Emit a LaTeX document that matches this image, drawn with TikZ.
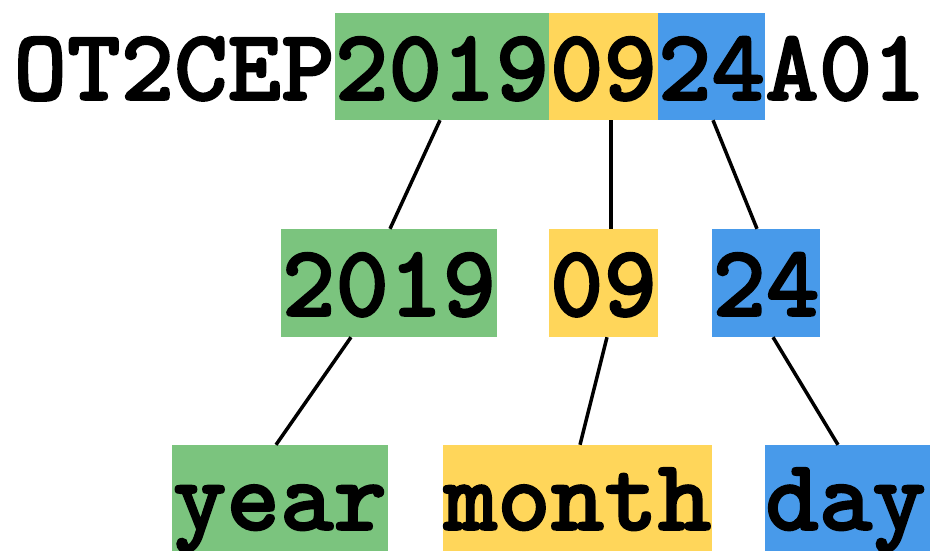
\documentclass[tikz,border=0pt]{standalone}
\usepackage{fontspec}
\newfontfamily\courbold{lmmonolt10-bold.otf}[FakeBold=1.6]
\definecolor{cgreen}{RGB}{123,196,126}
\definecolor{cyellow}{RGB}{255,214,90}
\definecolor{cblue}{RGB}{72,154,234}
\tikzset{
  box/.style={draw=none, inner sep=0pt, rectangle},
  txt/.style={inner sep=0pt, font=\fontsize{102}{102}\selectfont\courbold, anchor=base},
  link/.style={line width=3.5pt, black}
}
\begin{document}
\begin{tikzpicture}[x=1pt,y=-1pt]
\useasboundingbox (0,0) rectangle (930,550);
\clip (0,0) rectangle (930,550);
% top row boxes
\node[box, fill=cgreen, minimum width=214pt, minimum height=107pt] (ty) at (442,66.5) {};
\node[box, fill=cyellow, minimum width=109pt, minimum height=107pt] (tm) at (603.5,66.5) {};
\node[box, fill=cblue, minimum width=107pt, minimum height=107pt] (td) at (711.5,66.5) {};
\node[txt, anchor=base east] (tpre) at (335,100) {OT2CEP};
\node[txt] (tyt) at (442,100) {2019};
\node[txt] (tmt) at (603.5,100) {09};
\node[txt] (tdt) at (711.5,100) {24};
\node[txt, anchor=base west] (tsuf) at (765,100) {A01};
% middle row
\node[box, fill=cgreen, minimum width=216pt, minimum height=108pt] (my) at (389,283) {};
\node[box, fill=cyellow, minimum width=109pt, minimum height=108pt] (mm) at (603.5,283) {};
\node[box, fill=cblue, minimum width=108pt, minimum height=108pt] (md) at (766,283) {};
\node[txt] (myt) at (389,316) {2019};
\node[txt] (mmt) at (603.5,316) {09};
\node[txt] (mdt) at (766,316) {24};
% bottom row
\node[box, fill=cgreen, minimum width=216pt, minimum height=120pt] (by) at (280,505) {};
\node[box, fill=cyellow, minimum width=269pt, minimum height=120pt] (bm) at (577.5,505) {};
\node[box, fill=cblue, minimum width=170pt, minimum height=120pt] (bd) at (850,505) {};
\node[txt] (byt) at (280,530) {year};
\node[txt] (bmt) at (577.5,530) {month};
\node[txt, anchor=base west] (bdt) at (765,530) {day};
% connectors
\draw[link] (ty.south -| 440,0) -- (my.north -| 390,0);
\draw[link] (tm.south -| 611,0) -- (mm.north -| 611,0);
\draw[link] (td.south -| 713,0) -- (md.north -| 757,0);
\draw[link] (my.south -| 351,0) -- (by.north -| 276,0);
\draw[link] (mm.south -| 607,0) -- (bm.north -| 580,0);
\draw[link] (md.south -| 773,0) -- (bd.north -| 838,0);
\end{tikzpicture}
\end{document}
